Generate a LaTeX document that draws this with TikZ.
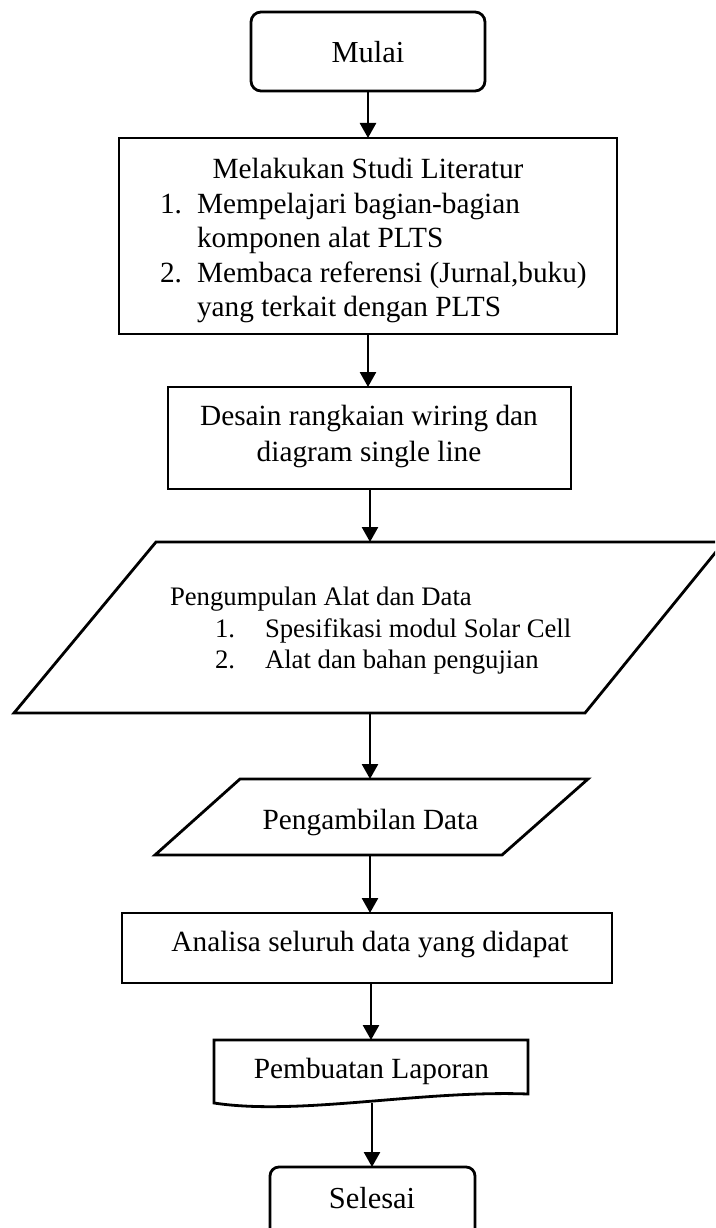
\documentclass[tikz,border=0pt]{standalone}
\usepackage{fontspec}
\setmainfont{Liberation Serif}
\usetikzlibrary{arrows.meta,calc}
\begin{document}
\begin{tikzpicture}[x=1pt,y=-1pt,
  fbox/.style={draw, line width=2.8pt, inner sep=0pt, outer sep=0pt},
  hollow/.style={draw=none, inner sep=0pt, outer sep=0pt},
  outline/.style={line width=2.8pt, line join=miter},
  txt/.style={inner sep=0pt, outer sep=0pt, font=\fontsize{29.3}{35}\selectfont},
  termtxt/.style={txt, font=\fontsize{30.5}{36}\selectfont},
  smalltxt/.style={txt, font=\fontsize{26.7}{31}\selectfont},
  flowarrow/.style={line width=2.6pt, -{Triangle[length=15pt,width=16pt]}}
]
\useasboundingbox (0,0) rectangle (715,1228);
\clip (0,0) rectangle (715,1228);
\fill[white] (0,0) rectangle (715,1228);

% start terminal
\node[fbox, rounded corners=10pt, minimum width=234pt, minimum height=79pt] (mulai) at (368,51.5) {};
\node[termtxt, anchor=base] (tmulai) at (368,63) {Mulai};

% literature study
\node[fbox, minimum width=498pt, minimum height=196pt] (studi) at (368,236) {};
\node[txt, anchor=base] (tstudi) at (368,178) {Melakukan Studi Literatur};
\node[txt, anchor=base west] (n1) at (160,213) {1.};
\node[txt, anchor=base west] (s1a) at (197,213) {Mempelajari bagian-bagian};
\node[txt, anchor=base west] (s1b) at (197,247) {komponen alat PLTS};
\node[txt, anchor=base west] (n2) at (160,282) {2.};
\node[txt, anchor=base west] (s2a) at (197,282) {Membaca referensi (Jurnal,buku)};
\node[txt, anchor=base west] (s2b) at (197,316) {yang terkait dengan PLTS};

% design
\node[fbox, minimum width=403pt, minimum height=102pt] (desain) at (369.5,438) {};
\node[txt, anchor=base] (tdesain1) at (369,425) {Desain rangkaian wiring dan};
\node[txt, anchor=base] (tdesain2) at (369,461) {diagram single line};

% data collection (input/output)
\node[hollow, minimum width=710pt, minimum height=171pt] (kumpul) at (369,627.5) {};
\draw[outline] ($(kumpul.north west)+(142,0)$) -- (kumpul.north east)
  -- ($(kumpul.south east)+(-139,0)$) -- (kumpul.south west) -- cycle;
\node[smalltxt, anchor=base west] (tkumpul) at (170,605) {Pengumpulan Alat dan Data};
\node[smalltxt, anchor=base west] (k1) at (215,637) {1.};
\node[smalltxt, anchor=base west] (k1t) at (265,637) {Spesifikasi modul Solar Cell};
\node[smalltxt, anchor=base west] (k2) at (215,668) {2.};
\node[smalltxt, anchor=base west] (k2t) at (265,668) {Alat dan bahan pengujian};

% data acquisition
\node[hollow, minimum width=433pt, minimum height=76pt] (ambil) at (371.5,817) {};
\draw[outline] ($(ambil.north west)+(85,0)$) -- (ambil.north east)
  -- ($(ambil.south east)+(-86,0)$) -- (ambil.south west) -- cycle;
\node[txt, anchor=base] (tambil) at (370.5,829) {Pengambilan Data};

% analysis
\node[fbox, minimum width=490pt, minimum height=70pt] (analisa) at (367,948) {};
\node[txt, anchor=base] (tanalisa) at (370,951) {Analisa seluruh data yang didapat};

% report (document shape)
\node[hollow, minimum width=314pt, minimum height=63pt] (laporan) at (371,1071.5) {};
\draw[outline] (laporan.south west) -- (laporan.north west) -- (laporan.north east)
  -- ($(laporan.north east)+(0,54)$)
  .. controls ($(laporan.south west)+(206,-13)$) and ($(laporan.south west)+(86,13)$)
  .. (laporan.south west) -- cycle;
\node[txt, anchor=base] (tlaporan) at (371.5,1078) {Pembuatan Laporan};

% end terminal
\node[fbox, rounded corners=9pt, minimum width=205pt, minimum height=79pt] (selesai) at (372.5,1206.5) {};
\node[termtxt, anchor=base] (tselesai) at (372,1208) {Selesai};

% flow
\draw[flowarrow] (mulai.south) -- (mulai.south |- studi.north);
\draw[flowarrow] (studi.south) -- (studi.south |- desain.north);
\draw[flowarrow] ([xshift=0.5pt]desain.south) -- ([xshift=0.5pt]desain.south |- kumpul.north);
\draw[flowarrow] ([xshift=1pt]kumpul.south) -- ([xshift=1pt]kumpul.south |- ambil.north);
\draw[flowarrow] ([xshift=-1.5pt]ambil.south) -- ([xshift=-1.5pt]ambil.south |- analisa.north);
\draw[flowarrow] ([xshift=4pt]analisa.south) -- ([xshift=4pt]analisa.south |- laporan.north);
\draw[flowarrow] ([xshift=1pt]laporan.south) -- ([xshift=1pt]laporan.south |- selesai.north);
\end{tikzpicture}
\end{document}
